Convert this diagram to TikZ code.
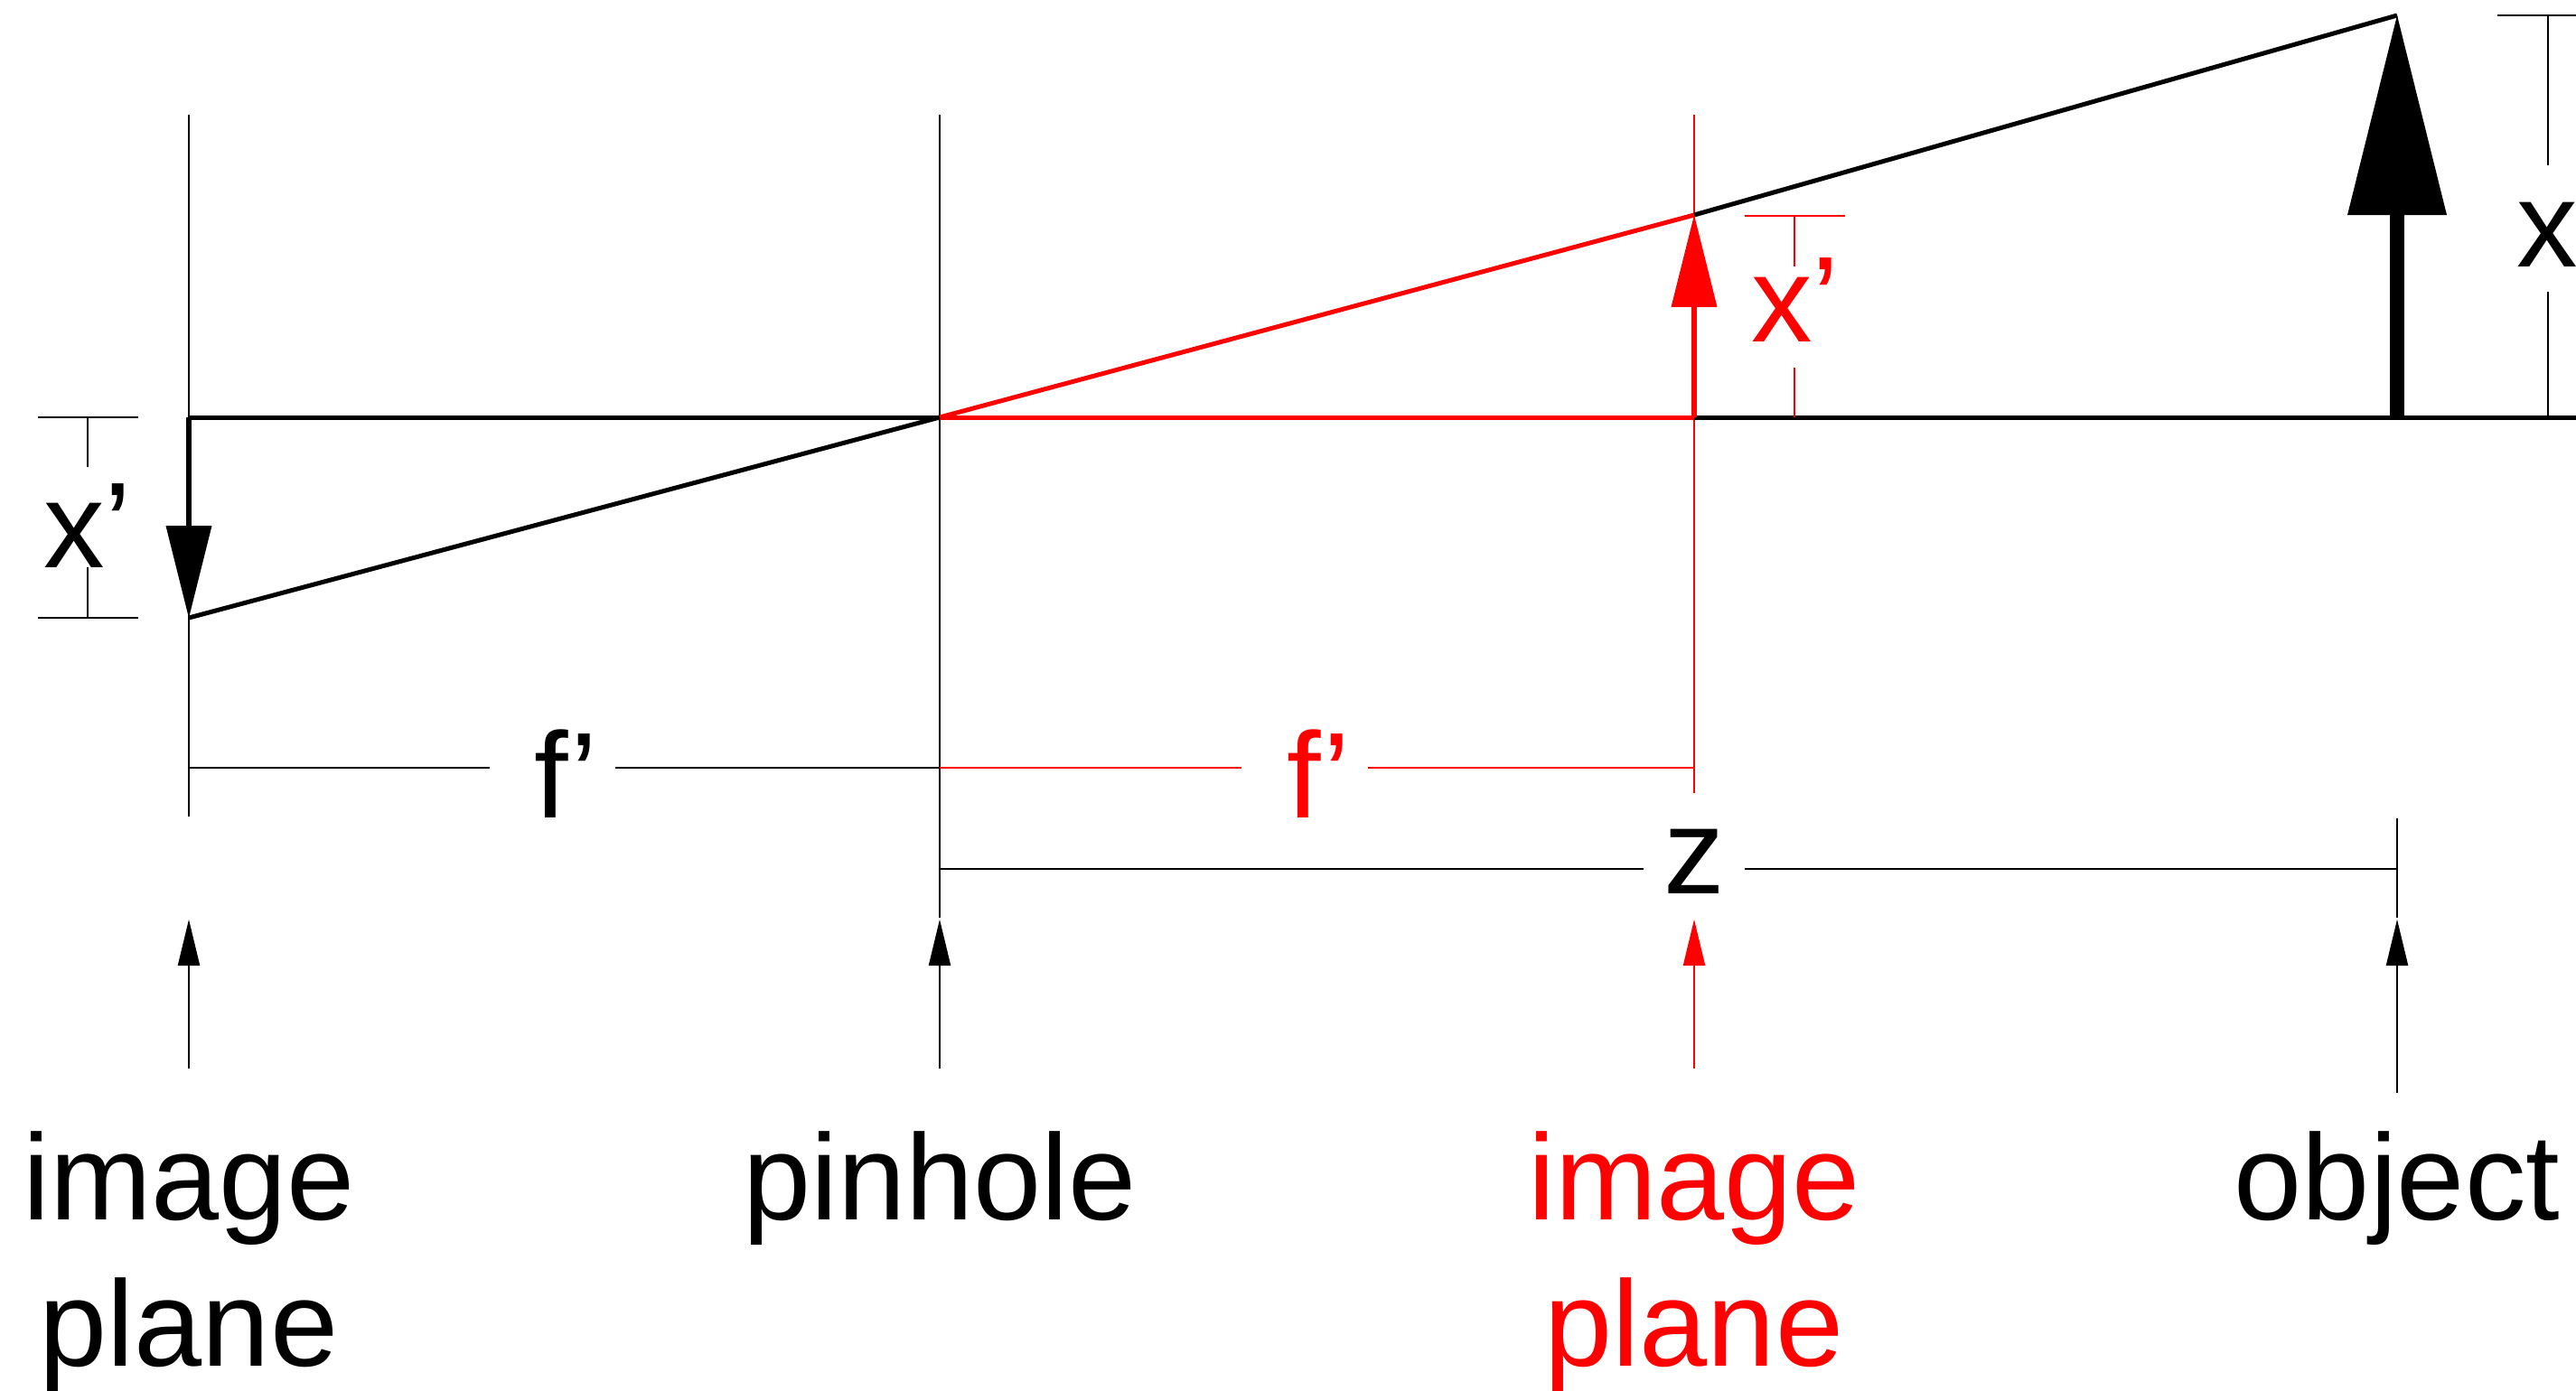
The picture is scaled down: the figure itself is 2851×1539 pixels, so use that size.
\documentclass[tikz,border=0pt]{standalone}
\usepackage{fontspec}
\setmainfont{Liberation Sans}
\usetikzlibrary{arrows.meta}
\begin{document}
\begin{tikzpicture}[x=0.01cm,y=-0.01cm,
  ray/.style={line width=1.42pt},
  plane/.style={line width=0.8pt},
  dim/.style={line width=0.62pt},
  lbl/.style={font=\fontsize{38.4}{46}\selectfont, inner sep=0pt, anchor=base},
  smallarr/.style={line width=0.75pt, -{Triangle[length=14.5pt,width=7pt,line width=0pt]}},
  medarr/.style={line width=1.6pt, -{Triangle[length=29pt,width=14.5pt,line width=0pt]}},
  bigarr/.style={line width=4.8pt, -{Triangle[length=62.9pt,width=31.3pt,line width=0pt]}}]
\useasboundingbox (0,0) rectangle (2851,1539);
% key points
\coordinate (ipTop) at (209,127);
\coordinate (ipBot) at (209,904);
\coordinate (ax0) at (209,462);
\coordinate (img) at (209,684);
\coordinate (ph) at (1040,462);
\coordinate (phTop) at (1040,127);
\coordinate (phBot) at (1040,1016);
\coordinate (rp) at (1875,462);
\coordinate (rpTop) at (1875,127);
\coordinate (rpBot) at (1875,878);
\coordinate (rimg) at (1875,238);
\coordinate (ob) at (2653,462);
\coordinate (obTop) at (2653,17);
\coordinate (obTickT) at (2653,906);
\coordinate (obTickB) at (2653,1016);
\coordinate (axEnd) at (2851,462);
% planes
\draw[plane] (ipTop) -- (ipBot);
\draw[plane] (phTop) -- (phBot);
\draw[plane,red] (rpTop) -- (rpBot);
\draw[plane] (obTickT) -- (obTickB);
% axis
\draw[ray] (ax0) -- (ph);
\draw[ray,red] (ph) -- (rp);
\draw[ray] (rp) -- (axEnd);
% rays
\draw[ray] (obTop) -- (rimg);
\draw[ray,red] (rimg) -- (ph);
\draw[ray] (ph) -- (img);
% object / image arrows
\draw[bigarr] (ob) -- (obTop);
\draw[medarr,red] (rp) -- (rimg);
\draw[medarr] (ax0) -- (img);
% left x' dimension
\coordinate (lxT1) at (42,462); \coordinate (lxT2) at (153,462);
\coordinate (lxB1) at (42,684); \coordinate (lxB2) at (153,684);
\coordinate (lxV1) at (97,462); \coordinate (lxV2) at (97,517);
\coordinate (lxV3) at (97,628); \coordinate (lxV4) at (97,684);
\draw[dim] (lxT1) -- (lxT2);
\draw[dim] (lxB1) -- (lxB2);
\draw[dim] (lxV1) -- (lxV2);
\draw[dim] (lxV3) -- (lxV4);
\node[lbl] (lxlbl) at (97,628) {x’};
% red x' dimension
\coordinate (rxT1) at (1931,239); \coordinate (rxT2) at (2042,239);
\coordinate (rxV1) at (1986,239); \coordinate (rxV2) at (1986,295);
\coordinate (rxV3) at (1986,407); \coordinate (rxV4) at (1986,462);
\draw[dim,red] (rxT1) -- (rxT2);
\draw[dim,red] (rxV1) -- (rxV2);
\draw[dim,red] (rxV3) -- (rxV4);
\node[lbl,red] (rxlbl) at (1987,378) {x’};
% object x dimension
\coordinate (oxT1) at (2764,17); \coordinate (oxT2) at (2860,17);
\coordinate (oxV1) at (2820,17); \coordinate (oxV2) at (2820,183);
\coordinate (oxV3) at (2820,323); \coordinate (oxV4) at (2820,462);
\draw[dim] (oxT1) -- (oxT2);
\draw[dim] (oxV1) -- (oxV2);
\draw[dim] (oxV3) -- (oxV4);
\node[lbl] (oxlbl) at (2819,295) {x};
% f' dimensions
\coordinate (f1a) at (209,850); \coordinate (f1b) at (542,850);
\coordinate (f1c) at (681,850); \coordinate (f1d) at (1040,850);
\draw[dim] (f1a) -- (f1b);
\draw[dim] (f1c) -- (f1d);
\node[lbl] (f1lbl) at (626,905) {f’};
\coordinate (f2a) at (1040,850); \coordinate (f2b) at (1374,850);
\coordinate (f2c) at (1514,850); \coordinate (f2d) at (1875,850);
\draw[dim,red] (f2a) -- (f2b);
\draw[dim,red] (f2c) -- (f2d);
\node[lbl,red] (f2lbl) at (1459,905) {f’};
% z dimension
\coordinate (z1) at (1040,962); \coordinate (z2) at (1819,962);
\coordinate (z3) at (1931,962); \coordinate (z4) at (2653,962);
\draw[dim] (z1) -- (z2);
\draw[dim] (z3) -- (z4);
\node[lbl] (zlbl) at (1875,989) {z};
% bottom pointer arrows
\coordinate (a1s) at (209,1183); \coordinate (a1e) at (209,1018);
\coordinate (a2s) at (1040,1183); \coordinate (a2e) at (1040,1018);
\coordinate (a3s) at (1875,1183); \coordinate (a3e) at (1875,1018);
\coordinate (a4s) at (2653,1210); \coordinate (a4e) at (2653,1018);
\draw[smallarr] (a1s) -- (a1e);
\draw[smallarr] (a2s) -- (a2e);
\draw[smallarr,red] (a3s) -- (a3e);
\draw[smallarr] (a4s) -- (a4e);
% labels
\node[lbl] (l1a) at (209,1350) {image};
\node[lbl] (l1b) at (209,1512) {plane};
\node[lbl] (l2) at (1040,1350) {pinhole};
\node[lbl,red] (l3a) at (1875,1350) {image};
\node[lbl,red] (l3b) at (1875,1512) {plane};
\node[lbl] (l4) at (2653,1350) {object};
\end{tikzpicture}
\end{document}
